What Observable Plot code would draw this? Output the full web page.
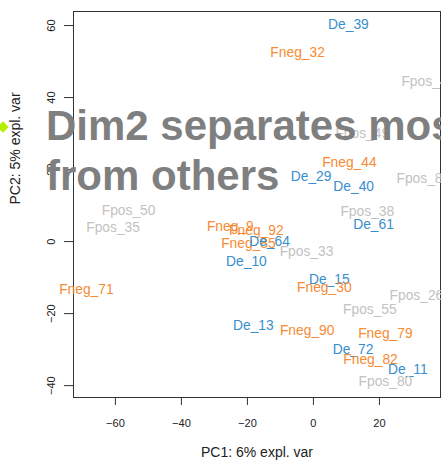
<!DOCTYPE html>
<html>
<head>
<meta charset="utf-8">
<script src="https://cdn.jsdelivr.net/npm/d3@7"></script>
<script src="https://cdn.jsdelivr.net/npm/@observablehq/plot@0.6"></script>
<style>
  html, body { margin: 0; padding: 0; background: #fff; }
  #wrap { position: relative; width: 441px; height: 464px; overflow: hidden; font-family: "Liberation Sans", Arial, sans-serif; }
  #title { position: absolute; left: 46px; top: 101px; font-size: 42px; line-height: 50px; font-weight: bold; color: #7f7f7f; white-space: nowrap; pointer-events: none; }
  #marker { position: absolute; left: -1px; top: 123px; width: 8px; height: 8px; background: #b4ee00; transform: rotate(45deg); }
</style>
</head>
<body>
<div id="wrap">
  <div id="chart"></div>
  <div id="marker"></div>
  <div id="title">Dim2 separates most<br>from others</div>
</div>
<script>
const names  = ["De_39","Fneg_32","Fpos_47","Fpos_49","Fneg_44","De_29","De_40","Fpos_81","Fpos_38","De_61",
                "Fneg_9","Fneg_92","Fneg_85","De_64","Fpos_33","De_10","Fpos_50","Fpos_35","Fneg_71","De_15",
                "Fneg_30","Fpos_26","Fpos_55","De_13","Fneg_90","Fneg_79","De_72","Fneg_82","De_11","Fpos_80"];
const pc1    = [10.6,-4.8,34.8,14.8,10.9,-0.7,12.2,33.3,16.3,18.2,
                -25.2,-17.3,-19.7,-13.3,-2.1,-20.3,-56.0,-60.7,-68.8,4.8,
                3.3,31.2,17.1,-18.2,-1.9,21.8,12.0,17.3,28.6,21.8];
const pc2    = [60.3,52.6,44.4,30.1,21.9,18.0,15.4,17.5,8.4,4.7,
                4.2,3.1,-0.6,0.0,-2.8,-5.5,8.6,4.0,-13.3,-10.6,
                -12.7,-15.0,-18.9,-23.3,-24.7,-25.6,-30.0,-32.9,-35.6,-38.8];
const groups = names.map(n => n.split("_")[0]);
const groupNames  = ["De","Fneg","Fpos"];
const groupColors = ["#388ECC","#F68B33","#C2C2C2"];
const xTicks = [-60,-40,-20,0,20];
const yTicks = [-40,-20,0,20,40,60];
const xLabel = "PC1: 6% expl. var";
const yLabel = "PC2: 5% expl. var";

const data = names.map((n,i) => ({name: n, pc1: pc1[i], pc2: pc2[i], group: groups[i]}));

const chart = Plot.plot({
  width: 441,
  height: 464,
  marginLeft: 73,
  marginRight: 1,
  marginTop: 11,
  marginBottom: 67,
  style: {fontFamily: "'Liberation Sans', Arial, sans-serif", fontSize: "11px", color: "#222", background: "#fff"},
  x: {domain: [-72.7, 38.5]},
  y: {domain: [-43.3, 63.9]},
  color: {domain: groupNames, range: groupColors},
  marks: [
    Plot.frame({stroke: "#333"}),
    Plot.axisX({ticks: xTicks, tickSize: 8, tickPadding: 14, fontSize: 11, label: null, stroke: "#333"}),
    Plot.axisY({ticks: yTicks, tickSize: 9, tickPadding: 10, tickRotate: -90, fontSize: 11, label: null, stroke: "#333"}),
    Plot.text(data, {x: "pc1", y: "pc2", text: "name", fill: "group", fontSize: 13.8}),
    Plot.text([xLabel], {frameAnchor: "bottom", dy: 59.7, fontSize: 14, fill: "#222"}),
    Plot.text([yLabel], {frameAnchor: "left", dx: -58, rotate: -90, fontSize: 14, fill: "#222"})
  ]
});
document.getElementById("chart").appendChild(chart);
</script>
</body>
</html>
